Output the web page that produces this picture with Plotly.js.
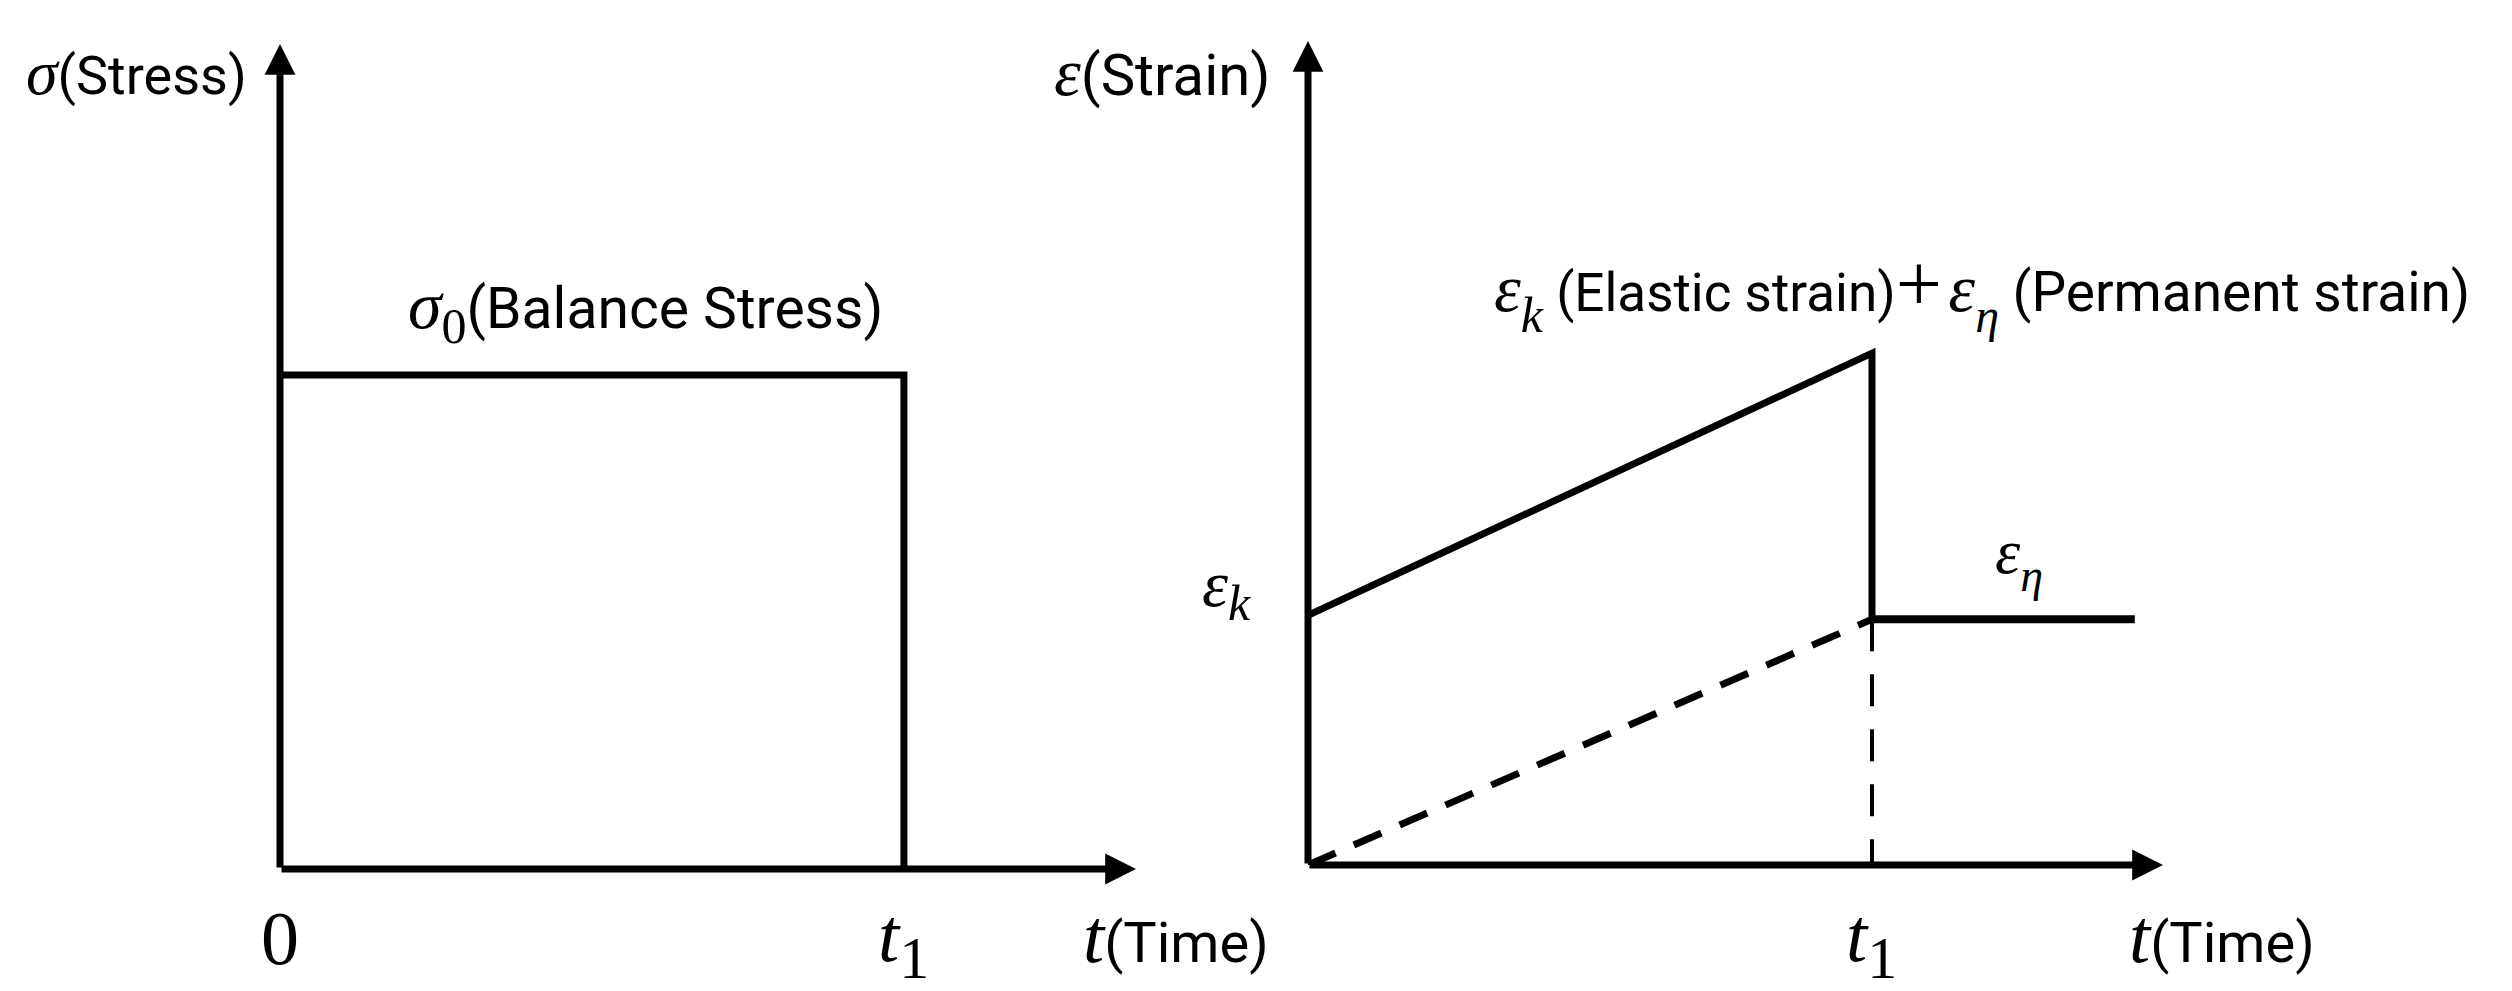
<!DOCTYPE html>
<html>
<head>
<meta charset="utf-8">
<script src="https://cdn.plot.ly/plotly-3.0.1.min.js"></script>
<style>
  html, body { margin: 0; padding: 0; background: #fff; }
  #chart { width: 2512px; height: 991px; }
</style>
</head>
<body>
<div id="chart"></div>
<script>
// time in units of t1, stress in units of sigma0, strain in units of eps_k
const timeTicksLeft = [0, 1];
const timeTickTextLeft = ["0", "1"];
const timeTicksRight = [1];

const stressTime = [0, 1, 1];
const stressValue = [1, 1, 0];

const strainTime = [0, 1, 1];
const strainValue = [1.0, 2.05, 0.984];

const permTime = [1, 1.466];
const permValue = [0.984, 0.984];

const creepTime = [0, 1];
const creepValue = [0, 0.984];

const dropTime = [1, 1];
const dropValue = [0.984, 0];

// axis lengths (arrow tips)
const leftTimeMax = 1.372, leftStressMax = 1.67;
const rightTimeMax = 1.516, rightStrainMax = 3.3;

const W = 2512, H = 991;
const px = v => v / W;
const py = v => 1 - v / H;

const MATH = "Liberation Serif";
const TEXT = "Roboto";
const black = "#000";

// little text helpers, sizes always explicit so <sub> shift comes from the base font
const M = (s, size) => `<span style="font-family:${MATH};font-size:${size}px"><i>${s}</i></span>`;
const R = (s, size) => `<span style="font-family:${MATH};font-size:${size}px">${s}</span>`;
const T = (s, size) => `<span style="font-family:${TEXT};font-size:${size}px">${s}</span>`;
const sub = s => `<sub>${s}</sub>`;

const traces = [
  { x: stressTime, y: stressValue, xaxis: "x", yaxis: "y",
    mode: "lines", line: { color: black, width: 7 }, cliponaxis: false },
  { x: strainTime, y: strainValue, xaxis: "x2", yaxis: "y2",
    mode: "lines", line: { color: black, width: 7 }, cliponaxis: false },
  { x: permTime, y: permValue, xaxis: "x2", yaxis: "y2",
    mode: "lines", line: { color: black, width: 8 }, cliponaxis: false },
  { x: creepTime, y: creepValue, xaxis: "x2", yaxis: "y2",
    mode: "lines", line: { color: black, width: 7, dash: "30px,20px" }, cliponaxis: false },
  { x: dropTime, y: dropValue, xaxis: "x2", yaxis: "y2",
    mode: "lines", line: { color: black, width: 4, dash: "32px,23px" }, cliponaxis: false }
];

function axisArrow(xref, yref, x, y) {
  return {
    xref, yref, axref: xref, ayref: yref,
    x, y, ax: 0, ay: 0, text: "",
    showarrow: true, arrowhead: 2, arrowsize: 0.88, arrowwidth: 7, arrowcolor: black,
    standoff: 0, startstandoff: 0
  };
}

// base: annotation font size, sets how far <sub> drops (0.21 * base)
function label(text, x, y, xanchor, base, opts) {
  return Object.assign({
    xref: "paper", yref: "paper", x, y, xanchor, yanchor: "middle",
    text, showarrow: false, font: { family: TEXT, size: base, color: black }
  }, opts || {});
}

const annotations = [
  axisArrow("x", "y", leftTimeMax, 0),
  axisArrow("x", "y", 0, leftStressMax),
  axisArrow("x2", "y2", rightTimeMax, 0),
  axisArrow("x2", "y2", 0, rightStrainMax),

  label(M("σ", 64) + T("(Stress)", 54), px(24), py(72), "left", 54),
  label(M("ε", 68) + T("(Strain)", 58), px(1052), py(72), "left", 58),
  label(M("σ", 68) + sub(R("0", 50)) + T("(Balance Stress)", 57), px(645), py(310), "center", 72),
  label(M("ε", 68) + sub(M("k", 50)) + T("&nbsp;(Elastic strain)", 53) + R("+", 82) +
        T("&nbsp;", 26) + M("ε", 68) + sub(M("η", 48)) + T("&nbsp;(Permanent strain)", 55),
        px(1492), py(290), "left", 100),
  label(M("ε", 66) + sub(M("k", 50)), px(1200), py(589), "left", 67),
  label(M("ε", 64) + sub(M("η", 46)), px(1993), py(558), "left", 86),

  label(M("t", 76) + T("(Time)", 56), px(1081), py(936), "left", 56),
  label(M("t", 76) + T("(Time)", 56), px(2127), py(936), "left", 56),

  label(R(timeTickTextLeft[0], 76), timeTicksLeft[0], py(938), "center", 76, { xref: "x" }),
  label(M("t", 76) + sub(R(timeTickTextLeft[1], 60)), timeTicksLeft[1], py(942), "center", 81, { xref: "x" }),
  label(M("t", 76) + sub(R(timeTickTextLeft[1], 60)), timeTicksRight[0], py(942), "center", 81, { xref: "x2" })
];

const hidden = { showgrid: false, zeroline: false, showline: false, showticklabels: false, ticks: "", fixedrange: true };

const layout = {
  width: W, height: H,
  margin: { l: 0, r: 0, t: 0, b: 0 },
  paper_bgcolor: "#fff", plot_bgcolor: "#fff",
  showlegend: false,
  xaxis: Object.assign({ domain: [px(280), px(1136)], range: [0, leftTimeMax] }, hidden),
  yaxis: Object.assign({ domain: [py(869), py(44)], range: [0, leftStressMax] }, hidden),
  xaxis2: Object.assign({ domain: [px(1308), px(2163)], range: [0, rightTimeMax], anchor: "y2" }, hidden),
  yaxis2: Object.assign({ domain: [py(865), py(41)], range: [0, rightStrainMax], anchor: "x2" }, hidden),
  annotations
};

Plotly.newPlot("chart", traces, layout, { displayModeBar: false, staticPlot: true });
</script>
</body>
</html>
